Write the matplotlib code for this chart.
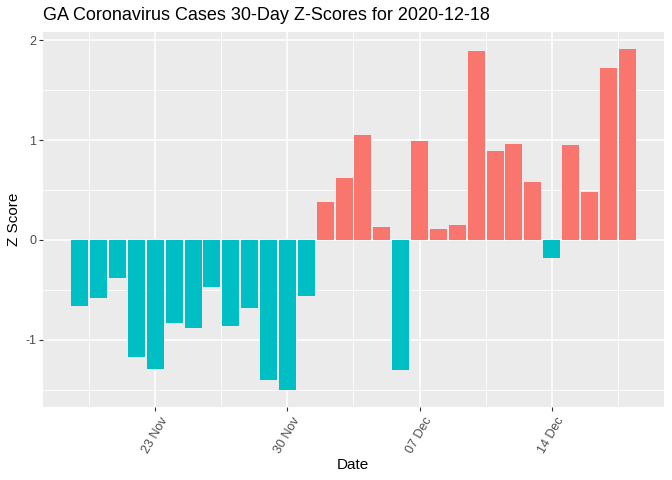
import numpy as np
import pandas as pd
import matplotlib
matplotlib.use("Agg")
import matplotlib.pyplot as plt
import matplotlib.dates as mdates

plt.rcParams["font.family"] = ["Liberation Sans", "DejaVu Sans"]
plt.rcParams["axes.unicode_minus"] = False

# data
dates = pd.date_range("2020-11-19", "2020-12-18", freq="D")
z_scores = [-0.66, -0.58, -0.38, -1.17, -1.29, -0.83, -0.88, -0.47, -0.86, -0.68,
            -1.40, -1.50, -0.56, 0.38, 0.62, 1.05, 0.13, -1.30, 0.99, 0.11,
            0.15, 1.89, 0.89, 0.96, 0.58, -0.18, 0.95, 0.48, 1.72, 1.91]
tick_dates = pd.to_datetime(["2020-11-23", "2020-11-30", "2020-12-07", "2020-12-14"])
minor_dates = pd.to_datetime(["2020-11-19 12:00", "2020-11-26 12:00", "2020-12-03 12:00",
                              "2020-12-10 12:00", "2020-12-17 12:00"])

z = np.array(z_scores)
colors = np.where(z > 0, "#F8766D", "#00BFC4")

fig = plt.figure(figsize=(6.72, 4.8), dpi=100)
ax = fig.add_axes([43/672, 1 - 407/480, (664 - 43)/672, (407 - 32)/480])
ax.set_facecolor("#EBEBEB")
ax.bar(dates, z, width=0.9, color=colors, zorder=3)

# limits with ggplot style expansion
lo = mdates.date2num(dates[0]) - 0.45
hi = mdates.date2num(dates[-1]) + 0.45
pad = (hi - lo) * 0.05
ax.set_xlim(lo - pad, hi + pad)
ypad = (z.max() - z.min()) * 0.05
ax.set_ylim(z.min() - ypad, z.max() + ypad)

ax.set_xticks(tick_dates)
ax.set_xticks(minor_dates, minor=True)
ax.xaxis.set_major_formatter(mdates.DateFormatter("%d %b"))
ax.set_yticks([-1, 0, 1, 2])
ax.set_yticks([-1.5, -0.5, 0.5, 1.5], minor=True)

ax.grid(which="major", color="white", linewidth=1.1, zorder=0)
ax.grid(which="minor", color="white", linewidth=0.55, zorder=0)
ax.set_axisbelow(True)
for s in ax.spines.values():
    s.set_visible(False)

ax.tick_params(which="major", length=3, width=0.8, color="#333333",
               labelsize=9, labelcolor="#4D4D4D", pad=2)
ax.tick_params(axis="x", pad=3)
ax.tick_params(which="minor", length=0)
plt.setp(ax.get_xticklabels(), rotation=60, ha="center", va="top")

fig.text(353/672, 1 - 465/480, "Date", fontsize=11, ha="center", va="center")
fig.text(14/672, 1 - 219/480, "Z Score", fontsize=11, rotation=90,
         ha="center", va="center")
fig.text(43/672, 1 - 16/480, "GA Coronavirus Cases 30-Day Z-Scores for 2020-12-18",
         fontsize=13, va="center", ha="left")

fig.savefig("out.png", dpi=100)
